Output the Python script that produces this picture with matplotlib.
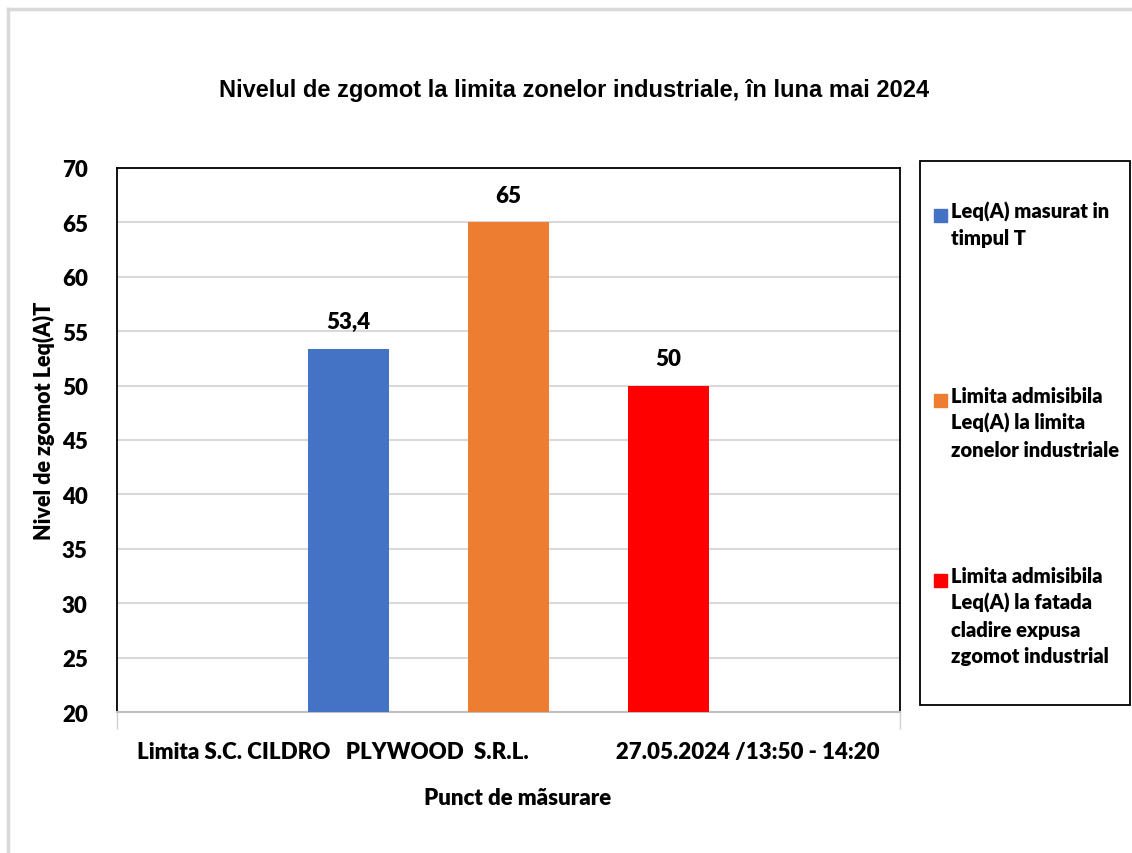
import numpy as np
import matplotlib.pyplot as plt
from matplotlib.patches import Rectangle
from matplotlib.lines import Line2D

# ---- date ----
categorie = "Limita S.C. CILDRO   PLYWOOD  S.R.L.                 27.05.2024 /13:50 - 14:20"
serii = ["Leq(A) masurat in\ntimpul T",
         "Limita admisibila\nLeq(A) la limita\nzonelor industriale",
         "Limita admisibila\nLeq(A) la fatada\ncladire expusa\nzgomot industrial"]
valori = [53.4, 65, 50]
etichete = ["53,4", "65", "50"]
culori = ["#4472C4", "#ED7D31", "#FF0000"]
yticks = list(range(20, 75, 5))

CAL = ["Lato", "DejaVu Sans"]
ARIAL = ["Liberation Sans", "DejaVu Sans"]
GR = "heavy"

fig = plt.figure(figsize=(11.32, 8.54), dpi=100)
W, H = 1132, 854
def fx(px): return px / W
def fy(py): return 1 - py / H

# chenar exterior (doar stanga + sus)
fig.add_artist(Line2D([fx(8), fx(8)], [0, fy(10)], color="#d9d9d9", lw=2.5))
fig.add_artist(Line2D([fx(8), 1], [fy(10), fy(10)], color="#d9d9d9", lw=2.5))

ax = fig.add_axes([fx(117), fy(713), fx(900) - fx(117), fy(169) - fy(713)])
w = 81 / 783
off = 160 / 783
x = np.arange(len(valori)) - 1
for i, (v, c) in enumerate(zip(valori, culori)):
    ax.bar(x[i] * off, v - 20, bottom=20, width=w, color=c, zorder=3)
    ax.text(x[i] * off, v + 1.5, etichete[i], ha="center", va="bottom",
            fontsize=16, fontweight=GR, family=CAL)

ax.set_xlim(-0.5, 0.5)
ax.set_ylim(20, 70)
ax.set_yticks(yticks)
ax.set_yticklabels([str(t) for t in yticks], fontsize=16, fontweight=GR, family=CAL)
ax.tick_params(axis="y", length=0, pad=21)
ax.set_xticks([0.0])
ax.set_xticklabels([categorie], fontsize=16, fontweight=GR, family=CAL)
ax.tick_params(axis="x", length=0, pad=21)
ax.set_xticks([-0.5, 0.5], minor=True)
ax.tick_params(axis="x", which="minor", length=12, color="#d0d0d0", width=1)
ax.grid(axis="y", color="#d9d9d9", lw=1.5, zorder=0)
for s in ["left", "top", "right"]:
    ax.spines[s].set_color("black")
    ax.spines[s].set_linewidth(1.3)
ax.spines["bottom"].set_color("#bfbfbf")
ax.spines["bottom"].set_linewidth(1.5)

ax.set_ylabel("Nivel de zgomot Leq(A)T", fontsize=15.5, fontweight=GR, family=CAL)
ax.yaxis.set_label_coords(-0.079, 0.537)
ax.set_xlabel("Punct de mãsurare", fontsize=16, fontweight=GR, family=CAL)
ax.xaxis.set_label_coords(0.512, -0.137)

fig.text(fx(574), fy(91), "Nivelul de zgomot la limita zonelor industriale, în luna mai 2024",
         ha="center", va="center", fontsize=17, fontweight="bold", family=ARIAL)

# legenda
fig.add_artist(Rectangle((fx(920), fy(706)), fx(1130) - fx(920), fy(162) - fy(706),
                         fill=False, edgecolor="black", lw=1.3))
leg_y = [202, 387, 567]
for s, c, yy in zip(serii, culori, leg_y):
    fig.add_artist(Rectangle((fx(934), fy(yy + 21)), fx(13), 13 / H, color=c))
    fig.text(fx(951), fy(yy), s, ha="left", va="top", fontsize=14.5,
             fontweight=GR, family=CAL, linespacing=1.45)

fig.savefig("out.png", dpi=100)
